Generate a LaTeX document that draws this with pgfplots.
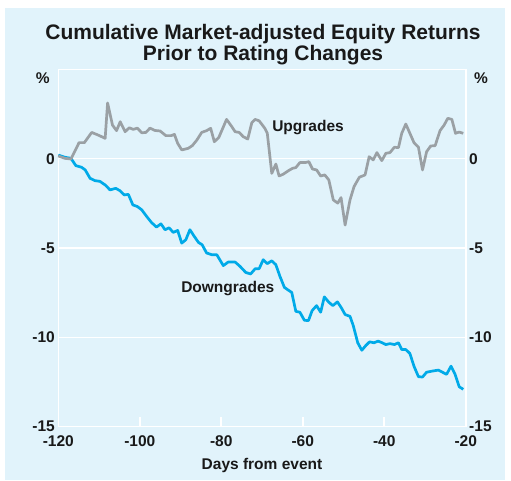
\documentclass[border=0pt]{standalone}
\usepackage{pgfplots}
\pgfplotsset{compat=1.18}
\usepackage{fontspec}
\setmainfont{Liberation Sans}
\definecolor{bgblue}{RGB}{225,243,251}
\definecolor{upgray}{RGB}{154,160,164}
\definecolor{downcyan}{RGB}{0,170,232}
\definecolor{txt}{RGB}{25,25,25}
\begin{document}
\begin{tikzpicture}[x=1pt,y=1pt]
\fill[white] (0,0) rectangle (511,481);
\fill[bgblue] (5,1) rectangle (505,473);
\node[anchor=base,font=\fontsize{21}{24}\selectfont\bfseries,text=txt,inner sep=0] at (263,441.2) {Cumulative Market-adjusted Equity Returns};
\node[anchor=base,font=\fontsize{21}{24}\selectfont\bfseries,text=txt,inner sep=0] at (263,420.5) {Prior to Rating Changes};
\begin{axis}[
  at={(58.3pt,54.5pt)}, anchor=south west,
  scale only axis, width=407.4pt, height=357.1pt,
  xmin=-120, xmax=-20, ymin=-15, ymax=5,
  axis line style={white, line width=1.6pt},
  xtick={-120,-100,-80,-60,-40,-20},
  xticklabels={-120,-100,-80,-60,-40,-20},
  ytick={-15,-10,-5,0},
  yticklabels={-15,-10,-5,0},
  xtick pos=bottom, ytick pos=left,
  tick align=inside,
  major tick length=9pt,
  xtick style={white, line width=1.6pt},
  ytick style={draw=none},
  ymajorgrids, grid style={white, line width=1.4pt},
  ticklabel style={font=\fontsize{15.5}{18}\selectfont\bfseries, text=txt},
  xticklabel style={yshift=-6pt},
  xlabel={Days from event},
  xlabel style={font=\fontsize{15.5}{18}\selectfont\bfseries, text=txt, yshift=-4pt},
  clip=false,
]
\addplot[downcyan, line width=2.7pt, line join=round] coordinates {
(-120,0.2) (-118.4,0.08) (-116.9,0.02) (-115.7,-0.39) (-114.3,-0.48) (-113.4,-0.63) (-112.2,-1.10) (-111.0,-1.23) (-109.8,-1.27) (-108.5,-1.47) (-107.3,-1.75) (-105.9,-1.66) (-104.9,-1.79) (-103.8,-2.03) (-102.8,-2.0) (-101.7,-2.59) (-100.6,-2.68) (-99.5,-2.87) (-98.3,-3.24) (-97.1,-3.58) (-95.9,-3.83) (-94.8,-3.65) (-93.8,-3.98) (-92.8,-3.87) (-91.8,-4.13) (-90.7,-4.02) (-89.7,-4.73) (-88.7,-4.54) (-87.7,-3.98) (-86.6,-4.36) (-85.6,-4.69) (-84.7,-4.82) (-83.6,-5.28) (-82.3,-5.38) (-81.1,-5.38) (-79.5,-5.99) (-78.3,-5.79) (-76.6,-5.79) (-75.4,-6.03) (-74.0,-6.37) (-72.8,-6.46) (-71.7,-6.17) (-70.7,-6.16) (-69.7,-5.66) (-68.7,-5.88) (-67.6,-5.72) (-66.6,-5.94) (-65.6,-6.59) (-64.5,-7.21) (-63.5,-7.37) (-62.7,-7.49) (-61.7,-8.55) (-60.7,-8.60) (-59.6,-9.05) (-58.6,-9.07) (-57.7,-8.51) (-56.6,-8.23) (-55.6,-8.6) (-54.7,-7.74) (-53.6,-8.04) (-52.6,-8.23) (-51.5,-8.02) (-50.5,-8.36) (-49.6,-8.73) (-48.4,-8.83) (-47.6,-9.35) (-46.5,-10.31) (-45.5,-10.73) (-44.5,-10.46) (-43.6,-10.26) (-42.5,-10.31) (-41.5,-10.22) (-40.5,-10.31) (-39.6,-10.41) (-38.6,-10.36) (-37.5,-10.41) (-36.5,-10.31) (-35.7,-10.69) (-34.7,-10.69) (-33.7,-10.91) (-32.7,-11.62) (-31.6,-12.21) (-30.6,-12.23) (-29.6,-11.96) (-28.3,-11.9) (-26.7,-11.84) (-25.7,-11.96) (-24.7,-12.08) (-23.6,-11.62) (-22.6,-12.08) (-21.6,-12.77) (-20.6,-12.92)
};
\addplot[upgray, line width=2.7pt, line join=round] coordinates {
(-120,0.15) (-118.4,0.02) (-116.9,-0.02) (-114.9,0.9) (-113.6,0.9) (-111.8,1.47) (-110.2,1.32) (-108.5,1.14) (-107.9,3.12) (-106.7,1.88) (-105.7,1.57) (-104.8,2.07) (-103.6,1.51) (-102.6,1.73) (-101.6,1.64) (-100.6,1.71) (-99.5,1.45) (-98.5,1.47) (-97.5,1.71) (-96.3,1.58) (-95.0,1.55) (-93.6,1.29) (-92.3,1.29) (-91.5,1.36) (-90.7,0.86) (-89.7,0.49) (-88.1,0.58) (-87.1,0.73) (-86.0,1.04) (-84.8,1.47) (-83.6,1.57) (-82.6,1.70) (-81.7,0.95) (-80.6,1.19) (-78.7,2.2) (-77.4,1.79) (-76.6,1.51) (-75.6,1.47) (-74.6,1.23) (-73.5,1.10) (-72.5,2.01) (-71.7,2.2) (-70.7,2.12) (-69.3,1.70) (-68.7,1.42) (-67.6,-0.82) (-66.6,-0.30) (-65.8,-0.97) (-64.8,-0.87) (-63.5,-0.67) (-62.5,-0.54) (-61.7,-0.5) (-60.7,-0.22) (-59.4,-0.22) (-58.5,-0.17) (-57.6,-0.58) (-56.6,-0.63) (-55.6,-0.97) (-54.6,-0.91) (-53.6,-1.19) (-52.5,-2.31) (-51.4,-2.49) (-50.6,-2.18) (-49.6,-3.72) (-48.4,-2.31) (-47.4,-1.56) (-46.1,-1.04) (-44.7,-0.91) (-43.7,0.11) (-42.7,-0.07) (-41.8,0.34) (-40.6,-0.11) (-39.6,0.30) (-38.6,0.34) (-37.5,0.64) (-36.5,0.62) (-35.7,1.42) (-34.7,1.94) (-33.7,1.42) (-32.7,0.90) (-31.6,0.64) (-30.6,-0.63) (-29.6,0.39) (-28.6,0.71) (-27.5,0.73) (-26.3,1.57) (-25.3,1.88) (-24.4,2.26) (-23.4,2.2) (-22.5,1.42) (-21.6,1.49) (-20.6,1.42)
};
\node[font=\fontsize{15.5}{18}\selectfont\bfseries, text=txt] at (axis cs:-58.7,1.74) {Upgrades};
\node[font=\fontsize{15.5}{18}\selectfont\bfseries, text=txt] at (axis cs:-78.4,-7.28) {Downgrades};
\node[font=\fontsize{15.5}{18}\selectfont\bfseries, text=txt, anchor=east] at ([xshift=-5pt]axis cs:-120,4.5) {\%};
\node[font=\fontsize{15.5}{18}\selectfont\bfseries, text=txt, anchor=west] at ([xshift=5pt]axis cs:-20,4.5) {\%};
\end{axis}
\begin{axis}[
  at={(58.3pt,54.5pt)}, anchor=south west,
  scale only axis, width=407.4pt, height=357.1pt,
  xmin=-120, xmax=-20, ymin=-15, ymax=5,
  axis line style={draw=none},
  xtick=\empty,
  ytick={-15,-10,-5,0},
  yticklabels={-15,-10,-5,0},
  yticklabel pos=right,
  ytick style={draw=none},
  tick align=inside,
  ticklabel style={font=\fontsize{15.5}{18}\selectfont\bfseries, text=txt},
]
\end{axis}
\end{tikzpicture}
\end{document}
